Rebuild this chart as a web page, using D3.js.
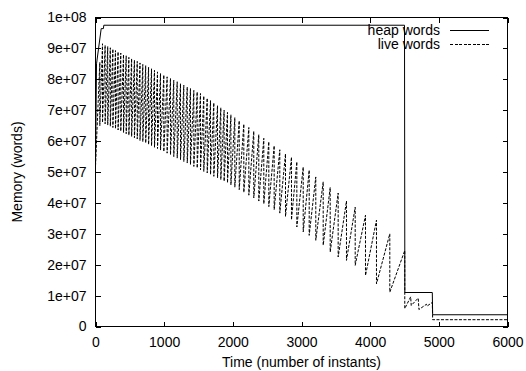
<!DOCTYPE html>
<html>
<head>
<meta charset="utf-8">
<script src="https://cdn.jsdelivr.net/npm/d3@7"></script>
<style>
  body { margin: 0; background: #fff; }
  svg { display: block; }
  text { font-family: "Liberation Sans", Arial, sans-serif; font-size: 14px; fill: #000; }
</style>
</head>
<body>
<div id="chart"></div>
<script>
// values in millions of words
const xTicks = [0, 1000, 2000, 3000, 4000, 5000, 6000];
const xTickLabels = ["0", "1000", "2000", "3000", "4000", "5000", "6000"];
const yTicks = [0, 10, 20, 30, 40, 50, 60, 70, 80, 90, 100];
const yTickLabels = ["0", "1e+07", "2e+07", "3e+07", "4e+07", "5e+07", "6e+07", "7e+07", "8e+07", "9e+07", "1e+08"];

const heapTimes  = [0, 15, 83, 115, 121, 4500, 4505, 4905, 4910, 6000];
const heapValues = [52, 85, 96.4, 96.4, 97.5, 97.5, 11, 11, 3.8, 3.8];

// live words: one collection per entry (peak before it, trough after it)
const gcTimes = [63, 102, 140, 178, 216, 253, 291, 329, 368, 408, 447, 486, 526, 567, 608, 648, 689, 731, 773, 816,
  859, 903, 947, 995, 1043, 1092, 1140, 1190, 1238, 1286, 1336, 1383, 1432, 1481, 1529, 1577, 1627, 1675, 1723, 1777,
  1825, 1873, 1922, 1972, 2029, 2093, 2160, 2233, 2305, 2378, 2451, 2524, 2602, 2684, 2767, 2854, 2932, 3025, 3112, 3208,
  3316, 3418, 3534, 3655, 3782, 3932, 4092, 4286, 4504];
const livePeaks = [85.5, 91.5, 91.0, 90.6, 90.2, 89.8, 89.3, 88.9, 88.5, 88.0, 87.6, 87.1, 86.7, 86.2, 85.8, 85.3, 84.8, 84.4, 83.9, 83.4,
  82.9, 82.4, 81.9, 81.4, 80.8, 80.3, 79.7, 79.2, 78.6, 78.1, 77.5, 77.0, 76.4, 75.9, 75.4, 74.6, 73.9, 73.1, 72.4, 71.5,
  70.8, 70.0, 69.3, 68.5, 67.6, 66.6, 65.5, 64.4, 63.2, 62.1, 60.9, 59.8, 58.5, 57.2, 55.9, 54.8, 53.3, 51.6, 50.6, 48.4,
  46.8, 45.0, 43.2, 40.6, 38.6, 36.0, 34.4, 30.0, 24.6];
const liveTroughs = [65.0, 66.0, 65.6, 65.2, 64.8, 64.4, 64.0, 63.6, 63.2, 62.8, 62.4, 61.9, 61.5, 61.1, 60.7, 60.2, 59.8, 59.4, 58.9, 58.5,
  58.0, 57.6, 57.1, 56.6, 56.1, 55.6, 55.0, 54.5, 54.0, 53.4, 52.9, 52.4, 51.8, 51.3, 50.7, 50.2, 49.7, 49.2, 48.6, 48.1,
  47.5, 47.0, 46.5, 45.8, 45.1, 44.3, 43.4, 42.5, 41.6, 40.6, 39.7, 38.8, 37.8, 36.7, 35.6, 34.5, 32.2, 30.6, 29.5, 27.9,
  26.3, 24.1, 22.5, 21.4, 19.8, 16.5, 13.8, 11.1, 5.8];
const tailTimes = [4590, 4598, 4700, 4710, 4820, 4828, 4905, 4910, 6000];
const tailLive  = [9.6, 6.8, 9.2, 5.5, 7.2, 6.6, 7.8, 2.2, 2.2];

const legendNames = ["heap words", "live words"];

const width = 526, height = 371;
const svg = d3.select("#chart").append("svg")
  .attr("width", width)
  .attr("height", height);

const x = d3.scaleLinear().domain([0, 6000]).range([95.5, 507.5]);
const y = d3.scaleLinear().domain([0, 100]).range([326.5, 17.5]);

const heap = heapTimes.map((t, i) => [t, heapValues[i]]);
const live = [[0, 52]];
gcTimes.forEach((t, i) => {
  live.push([t, livePeaks[i]]);
  live.push([t, liveTroughs[i]]);
});
tailTimes.forEach((t, i) => live.push([t, tailLive[i]]));

const line = d3.line()
  .x(d => x(d[0]))
  .y(d => y(d[1]));

// axes, ticks inside the frame on all four sides
const tk = 5;
const xAxis = svg.append("g")
  .attr("transform", `translate(0,${y(0)})`)
  .call(d3.axisBottom(x).tickValues(xTicks).tickSize(-tk).tickPadding(11)
    .tickFormat((d, i) => xTickLabels[i]));
const xTop = svg.append("g")
  .attr("transform", `translate(0,${y(100)})`)
  .call(d3.axisTop(x).tickValues(xTicks).tickSize(-tk).tickFormat(""));
const yAxis = svg.append("g")
  .attr("transform", `translate(${x(0)},0)`)
  .call(d3.axisLeft(y).tickValues(yTicks).tickSize(-tk).tickPadding(9)
    .tickFormat((d, i) => yTickLabels[i]));
const yRight = svg.append("g")
  .attr("transform", `translate(${x(6000)},0)`)
  .call(d3.axisRight(y).tickValues(yTicks).tickSize(-tk).tickFormat(""));

[xAxis, xTop, yAxis, yRight].forEach(g => {
  g.select(".domain").remove();
  g.selectAll(".tick line").attr("stroke", "#000").attr("shape-rendering", "crispEdges");
  g.selectAll("text").attr("font-size", 14).attr("font-family", null);
});

svg.append("rect")
  .attr("x", x(0))
  .attr("y", y(100))
  .attr("width", x(6000) - x(0))
  .attr("height", y(0) - y(100))
  .attr("fill", "none")
  .attr("stroke", "#000")
  .attr("shape-rendering", "crispEdges");

svg.append("path")
  .datum(heap)
  .attr("fill", "none")
  .attr("stroke", "#000")
  .attr("stroke-width", 1)
  .attr("d", line);

svg.append("path")
  .datum(live)
  .attr("fill", "none")
  .attr("stroke", "#000")
  .attr("stroke-width", 1)
  .attr("stroke-dasharray", "3,1.5")
  .attr("d", line);

// legend
const legend = svg.append("g");
legendNames.forEach((name, i) => {
  const ly = 30.5 + i * 14;
  legend.append("text")
    .attr("x", 440)
    .attr("y", ly)
    .attr("dy", "0.35em")
    .attr("text-anchor", "end")
    .text(name);
  legend.append("line")
    .attr("x1", 450).attr("x2", 489)
    .attr("y1", ly).attr("y2", ly)
    .attr("stroke", "#000")
    .attr("shape-rendering", "crispEdges")
    .attr("stroke-dasharray", i === 1 ? "3,1.5" : null);
});

svg.append("text")
  .attr("text-anchor", "middle")
  .attr("transform", `translate(17,${(y(0) + y(100)) / 2}) rotate(-90)`)
  .attr("dy", "0.35em")
  .text("Memory (words)");

svg.append("text")
  .attr("x", (x(0) + x(6000)) / 2)
  .attr("y", 362)
  .attr("dy", "0.35em")
  .attr("text-anchor", "middle")
  .text("Time (number of instants)");
</script>
</body>
</html>
